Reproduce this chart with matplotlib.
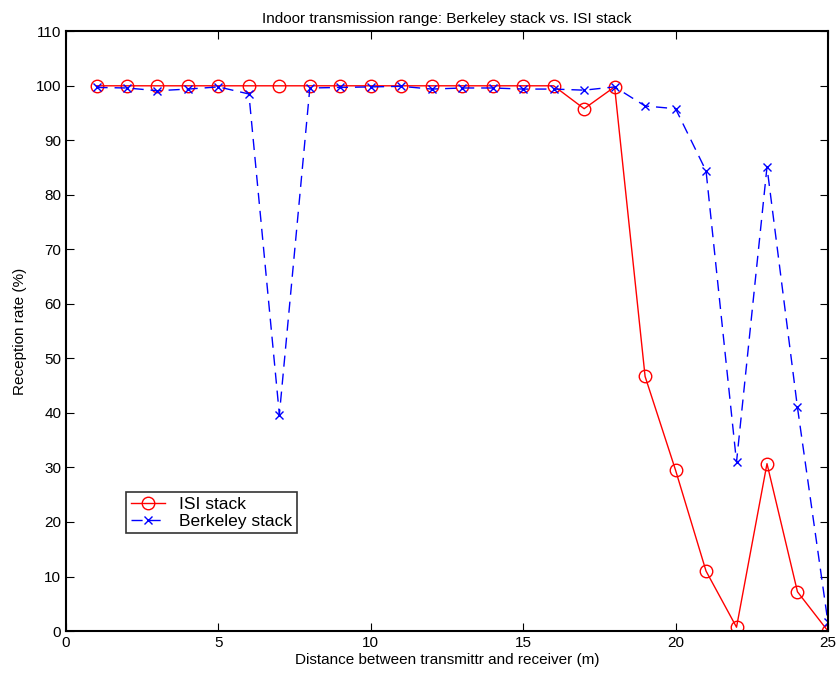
import matplotlib
matplotlib.use("Agg")
import matplotlib.pyplot as plt

plt.rcParams['font.family'] = ['Liberation Sans', 'DejaVu Sans']

distance = list(range(1, 26))
isi = [100, 100, 100, 100, 100, 100, 100, 100, 100, 100, 100, 100, 100, 100, 100, 100,
       95.8, 99.8, 46.7, 29.5, 11.0, 0.7, 30.7, 7.2, 0.0]
berkeley = [99.7, 99.6, 99.1, 99.4, 99.8, 98.5, 39.7, 99.6, 99.7, 99.8, 99.9, 99.4, 99.6,
            99.6, 99.4, 99.4, 99.2, 99.8, 96.3, 95.8, 84.4, 31.0, 85.1, 41.0, 1.6]
xticks = [0, 5, 10, 15, 20, 25]
yticks = list(range(0, 111, 10))

fig = plt.figure(figsize=(8.38, 6.8), dpi=100)
ax = fig.add_axes([0.0788, 0.072, 0.9092, 0.882])

ax.plot(distance, isi, color='red', linestyle='-', marker='o', markersize=9,
        markerfacecolor='none', markeredgecolor='red', linewidth=1, label='ISI stack')
ax.plot(distance, berkeley, color='blue', linestyle=(0, (8, 5)), marker='x', markersize=6,
        linewidth=1, label='Berkeley stack')

ax.set_xlim(0, 25)
ax.set_ylim(0, 110)
ax.set_xticks(xticks)
ax.set_yticks(yticks)
ax.tick_params(direction='in', top=True, right=True, labelsize=11, length=6)
for s in ax.spines.values():
    s.set_linewidth(1.5)

ax.set_title('Indoor transmission range: Berkeley stack vs. ISI stack', fontsize=11, pad=6)
ax.set_xlabel('Distance between transmittr and receiver (m)', fontsize=11, labelpad=2)
ax.set_ylabel('Reception rate (%)', fontsize=11, labelpad=6)

leg = ax.legend(loc='lower left', bbox_to_anchor=(0.079, 0.163), fontsize=12.5,
                frameon=True, fancybox=False, edgecolor='black', borderaxespad=0,
                handlelength=2.0, borderpad=0.25, labelspacing=0.12, handletextpad=0.8)
leg.get_frame().set_linewidth(1.2)

fig.savefig('out.png', dpi=100)
